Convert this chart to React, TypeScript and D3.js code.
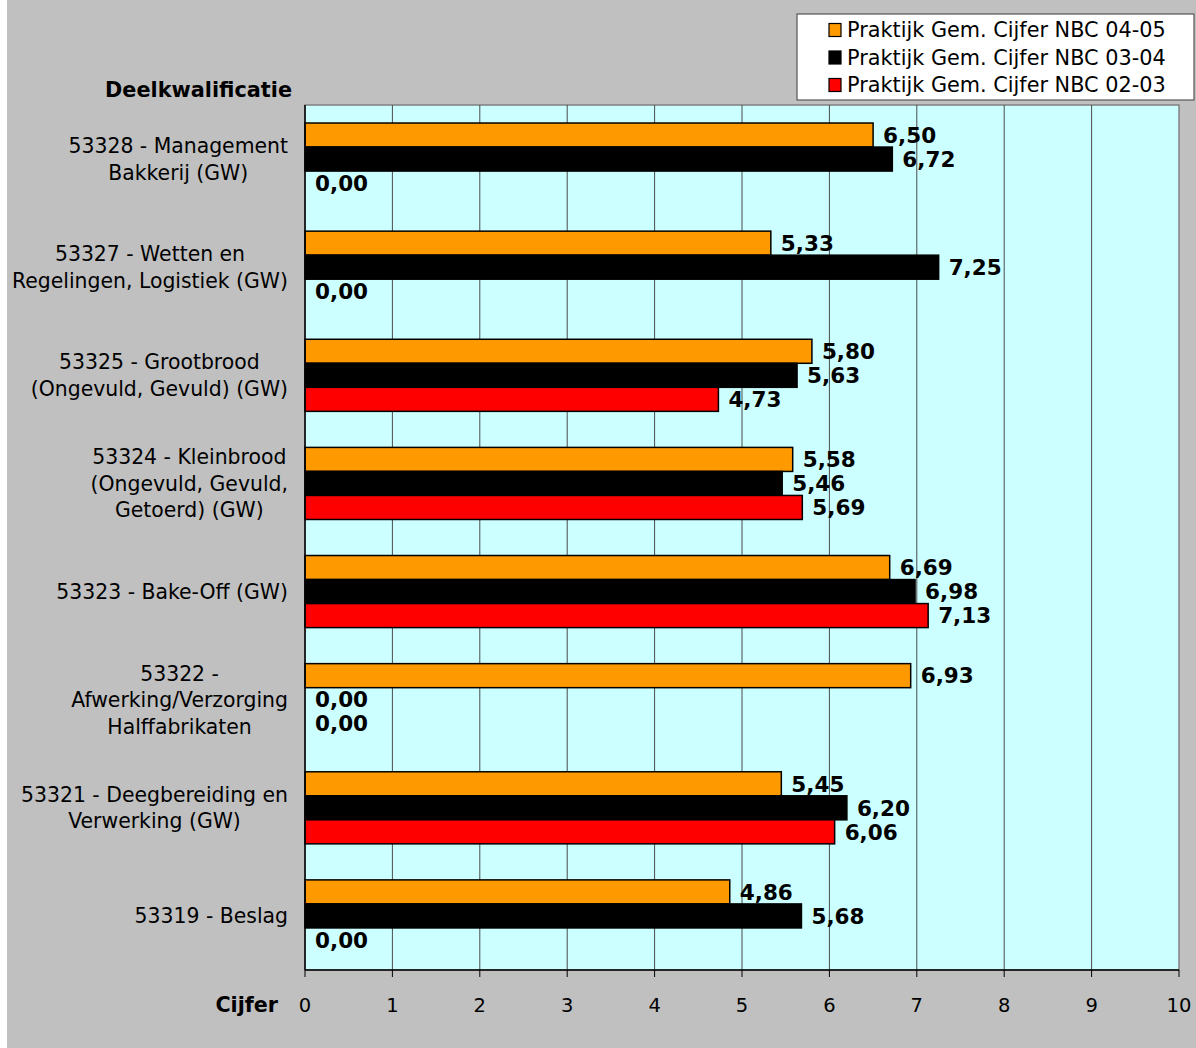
import React, { useEffect, useRef } from "react";
import * as d3 from "d3";

const categories = [
  "53328 - Management|Bakkerij (GW)",
  "53327 - Wetten en|Regelingen, Logistiek (GW)",
  "53325 - Grootbrood|(Ongevuld, Gevuld) (GW)",
  "53324 - Kleinbrood|(Ongevuld, Gevuld,|Getoerd) (GW)",
  "53323 - Bake-Off (GW)",
  "53322 -|Afwerking/Verzorging|Halffabrikaten",
  "53321 - Deegbereiding en|Verwerking (GW)",
  "53319 - Beslag",
];

const seriesNames = [
  "Praktijk Gem. Cijfer NBC 04-05",
  "Praktijk Gem. Cijfer NBC 03-04",
  "Praktijk Gem. Cijfer NBC 02-03",
];
const seriesColors = ["#ff9900", "#000000", "#ff0000"];

const values0405 = [6.5, 5.33, 5.8, 5.58, 6.69, 6.93, 5.45, 4.86];
const values0304 = [6.72, 7.25, 5.63, 5.46, 6.98, 0, 6.2, 5.68];
const values0203 = [0, 0, 4.73, 5.69, 7.13, 0, 6.06, 0];
const seriesValues = [values0405, values0304, values0203];

const xTicks = [0, 1, 2, 3, 4, 5, 6, 7, 8, 9, 10];

const W = 1196;
const H = 1048;
const FONT = "'DejaVu Sans', Verdana, sans-serif";

export default function App() {
  const ref = useRef<SVGSVGElement>(null);

  const left = 305;
  const right = 1179;
  const top = 105;
  const bottom = 970;

  const x = d3.scaleLinear().domain([0, 10]).range([left, right]);
  const y = d3
    .scaleBand<string>()
    .domain(categories)
    .range([top, bottom])
    .paddingInner(1 / 3)
    .paddingOuter(1 / 6);
  const ys = d3
    .scaleBand<string>()
    .domain(seriesNames)
    .range([0, y.bandwidth()]);

  useEffect(() => {
    if (!ref.current) return;
    const svg = d3.select(ref.current);
    svg.selectAll<SVGTextElement, unknown>("text.catlabel").each(function () {
      const t = d3.select(this);
      let maxW = 0;
      t.selectAll<SVGTSpanElement, unknown>("tspan").each(function () {
        maxW = Math.max(maxW, this.getComputedTextLength());
      });
      const rx = +t.attr("data-right");
      const cx = rx - maxW / 2;
      t.attr("text-anchor", "middle");
      t.selectAll("tspan").attr("x", cx);
    });
  }, []);

  const fmt = (v: number) => v.toFixed(2).replace(".", ",");
  const lineH = 26.5;

  return (
    <svg
      ref={ref}
      width={W}
      height={H}
      style={{ position: "absolute", left: 0, top: 0, display: "block" }}
      fontFamily={FONT}
    >
      <rect x={0} y={0} width={W} height={H} fill="#ffffff" />
      <rect x={7} y={0} width={W - 7} height={H} fill="#c0c0c0" />

      {/* plot area */}
      <rect x={left} y={top} width={right - left} height={bottom - top} fill="#ccffff" stroke="#808080" strokeWidth={1.5} />

      {/* gridlines */}
      {xTicks.slice(1, -1).map((t) => (
        <line key={"g" + t} x1={x(t)} x2={x(t)} y1={top} y2={bottom} stroke="#4a4a4a" strokeWidth={1} />
      ))}

      {/* bars */}
      {seriesNames.map((s, si) =>
        categories.map((c, ci) => {
          const v = seriesValues[si][ci];
          const by = (y(c) as number) + (ys(s) as number);
          const bh = ys.bandwidth();
          return (
            <g key={s + c}>
              {v > 0 && (
                <rect
                  x={x(0)}
                  y={by}
                  width={x(v) - x(0)}
                  height={bh}
                  fill={seriesColors[si]}
                  stroke="#000"
                  strokeWidth={1.5}
                />
              )}
              <text
                x={x(v) + 10}
                y={by + bh / 2}
                dy="0.36em"
                fontSize={21.5}
                fontWeight="bold"
                fill="#000"
              >
                {fmt(v)}
              </text>
            </g>
          );
        })
      )}

      {/* axes */}
      <line x1={left} x2={left} y1={top} y2={bottom} stroke="#000" strokeWidth={1.5} />
      <line x1={left} x2={right} y1={bottom} y2={bottom} stroke="#000" strokeWidth={1.5} />
      {xTicks.map((t) => (
        <g key={"t" + t}>
          <line x1={x(t)} x2={x(t)} y1={bottom} y2={bottom + 7} stroke="#000" strokeWidth={1} />
          <text x={x(t)} y={1005} dy="0.36em" textAnchor="middle" fontSize={19.5} fill="#000">
            {t}
          </text>
        </g>
      ))}
      <text x={278} y={1005} dy="0.36em" textAnchor="end" fontSize={20.7} fontWeight="bold" fill="#000">
        Cijfer
      </text>
      <text x={292} y={90} dy="0.36em" textAnchor="end" fontSize={20.8} fontWeight="bold" fill="#000">
        Deelkwalificatie
      </text>

      {/* category labels */}
      {categories.map((c) => {
        const lines = c.split("|");
        const cy = (y(c) as number) + y.bandwidth() / 2;
        const y0 = cy - ((lines.length - 1) * lineH) / 2;
        return (
          <text key={c} className="catlabel" data-right={288} textAnchor="end" fontSize={20.4} fill="#000">
            {lines.map((l, i) => (
              <tspan key={i} x={288} y={y0 + i * lineH} dy="0.36em">
                {l}
              </tspan>
            ))}
          </text>
        );
      })}

      {/* legend */}
      <rect x={797} y={14} width={397} height={86} fill="#ffffff" stroke="#555" strokeWidth={1.2} />
      {seriesNames.map((s, i) => (
        <g key={"l" + s}>
          <rect x={829} y={30 + i * 27.5 - 6.5} width={12} height={13} fill={seriesColors[i]} stroke="#000" strokeWidth={1.2} />
          <text x={847} y={30 + i * 27.5} dy="0.36em" fontSize={20.8} fill="#000">
            {s}
          </text>
        </g>
      ))}
    </svg>
  );
}
